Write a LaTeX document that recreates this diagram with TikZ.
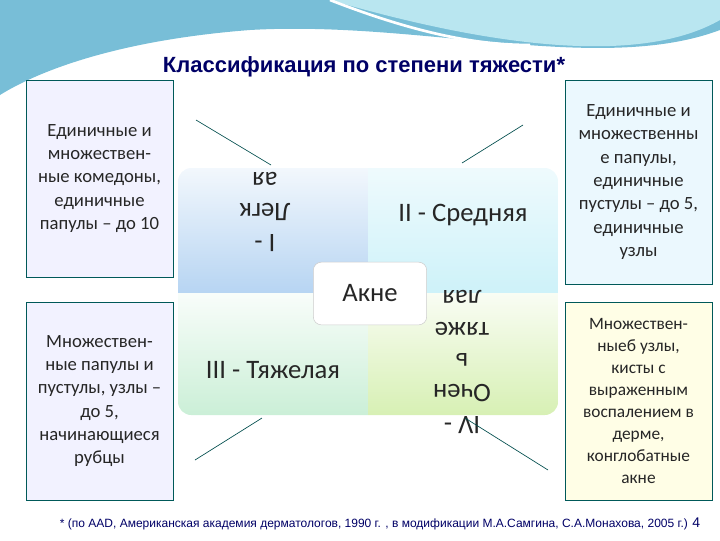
\documentclass[tikz,border=0pt]{standalone}
\usepackage{fontspec}
\setmainfont{Carlito}
\newfontfamily\arialf{Liberation Sans}
\definecolor{hdr}{RGB}{120,190,215}
\definecolor{hdrl}{RGB}{185,230,240}
\definecolor{qa}{RGB}{170,205,240}
\definecolor{qb}{RGB}{200,240,248}
\definecolor{qc}{RGB}{190,235,205}
\definecolor{qd}{RGB}{215,240,180}
\begin{document}
\begin{tikzpicture}[x=0.75pt,y=-0.75pt,
 side/.style={draw=teal!70!black,line width=0.5pt,minimum width=110.25pt,align=center,font=\fontsize{14}{17.5}\selectfont,text=black!85},
 quad/.style={font=\fontsize{20}{23.5}\selectfont,text=black!85,align=center},
 conn/.style={draw=teal!60!black,line width=0.5pt}]
\useasboundingbox (0,0) rectangle (720,540);
% header wave
\fill[hdr] (0,0) -- (720,0) -- (720,30) .. controls (600,75) and (420,20) .. (250,30) .. controls (120,40) and (40,70) .. (0,95) -- cycle;
\fill[hdrl] (330,0) -- (720,0) -- (720,20) .. controls (650,60) and (520,55) .. (330,0) -- cycle;
\draw[white,line width=2pt] (330,0) .. controls (420,35) and (480,45) .. (530,45);
% quadrants
\begin{scope}
\clip[rounded corners=10pt] (178,168) rectangle (558,415);
\shade[top color=qa!15,bottom color=qa!85] (178,168) rectangle (368,293);
\shade[top color=qb!30,bottom color=qb!90] (368,168) rectangle (558,293);
\shade[top color=qc!10,bottom color=qc!80] (178,293) rectangle (368,415);
\shade[top color=qd!15,bottom color=qd] (368,293) rectangle (558,415);
\end{scope}
\node[side,fill=blue!5,minimum height=147.75pt] (lt) at (99.5,178.5) {Единичные и\\множествен-\\ные комедоны,\\единичные\\папулы -- до 10};
\node[side,fill=blue!5,minimum height=148.5pt] (lb) at (99.5,401) {Множествен-\\ные папулы и\\пустулы, узлы --\\до 5,\\начинающиеся\\рубцы};
\node[side,fill=cyan!8,minimum height=153pt] (rt) at (638.5,182) {Единичные и\\множественны\\е папулы,\\единичные\\пустулы -- до 5,\\единичные\\узлы};
\node[side,fill=yellow!10,minimum height=148.5pt,font=\fontsize{13}{16.5}\selectfont] (rb) at (638.5,401) {Множествен-\\ныеб узлы,\\кисты с\\выраженным\\воспалением в\\дерме,\\конглобатные\\акне};
\node[quad,rotate=180] (q1) at (265,212) {I -\\Легк\\ая};
\node[quad] (q2) at (463,215) {II - Средняя};
\node[quad] (q3) at (273,370) {III - Тяжелая};
\node[quad,rotate=180] (q4) at (462,362) {IV -\\Очен\\ь\\тяже\\лая};
\node[draw=gray!40,fill=white,rounded corners=6pt,minimum width=85pt,minimum height=47pt,quad] (ak) at (370,293.5) {Акне};
\coordinate (c1) at (196,120); \coordinate (c1e) at (271,165);
\coordinate (c2) at (523,125); \coordinate (c2e) at (462,163);
\coordinate (c3) at (262,418); \coordinate (c3e) at (195,460);
\coordinate (c4) at (465,418); \coordinate (c4e) at (548,470);
\draw[conn] (c1) -- (c1e); \draw[conn] (c2) -- (c2e);
\draw[conn] (c3) -- (c3e); \draw[conn] (c4) -- (c4e);
\node[font=\arialf\bfseries\fontsize{16.5}{19}\selectfont,text=blue!40!black] (t) at (364,67) {Классификация по степени тяжести*};
\node[font=\arialf\fontsize{9}{11}\selectfont,text=blue!40!black] (f) at (380,524) {* (по AAD, Американская академия дерматологов, 1990 г. , в модификации М.А.Самгина, С.А.Монахова, 2005 г.) \fontsize{10.5}{12}\selectfont 4};
\end{tikzpicture}
\end{document}
